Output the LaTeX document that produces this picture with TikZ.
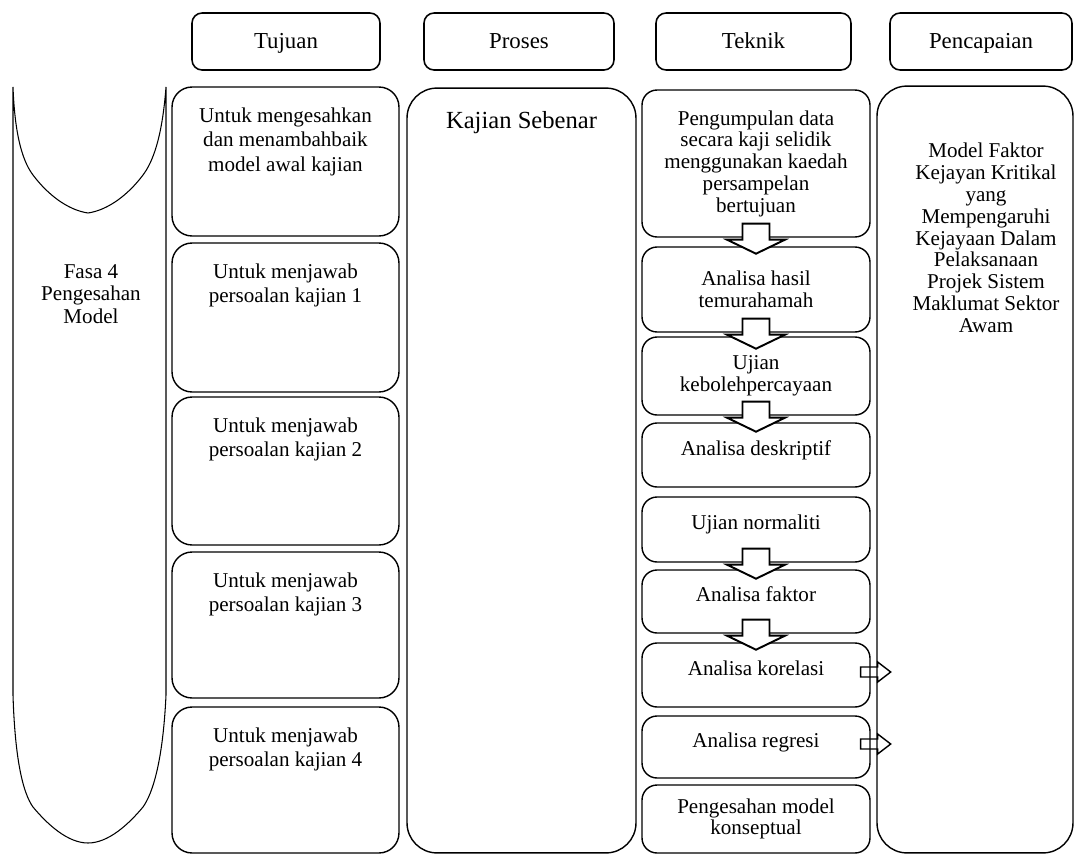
\documentclass[tikz,border=0pt]{standalone}
\usepackage{fontspec}
\setmainfont{Liberation Serif}
\usetikzlibrary{positioning,calc}

\begin{document}
\begin{tikzpicture}[x=0.02cm, y=-0.02cm,
    head/.style={draw, rounded corners=0.2cm, line width=0.9pt, minimum height=1.14cm, text height=0.9em, text depth=0.06em, font=\fontsize{13}{15}\selectfont},
    aim/.style={draw, rounded corners=0.4cm, line width=0.8pt, minimum width=4.54cm},
    tech/.style={draw, rounded corners=0.3cm, line width=0.8pt, minimum width=4.56cm, align=center, font=\fontsize{12}{12.4}\selectfont},
    lift/.style={text depth=0.28cm},
    col/.style={draw, rounded corners=0.6cm, line width=0.8pt},
    txt/.style={anchor=north, align=center, inner sep=0pt, font=\fontsize{12}{13.9}\selectfont},
    darr/.style={draw, fill=white, line width=1.1pt},
    rarr/.style={draw, line width=0.8pt},
  ]
  \useasboundingbox (0,0) rectangle (1076,856);

  % column headers
  \node[head, minimum width=3.76cm] (hTujuan) at (286,41.5) {Tujuan};
  \node[head, minimum width=3.8cm] (hProses) at (519,41.5) {Proses};
  \node[head, minimum width=3.9cm] (hTeknik) at (753.5,41.5) {Teknik};
  \node[head, minimum width=3.64cm] (hCapai) at (981,41.5) {Pencapaian};

  % phase shape
  \draw[line width=0.6pt] (13,87) .. controls (15,140) and (24,163) .. (33,175)
    .. controls (48,195) and (68,210) .. (88,213)
    .. controls (108,210) and (128,195) .. (143,175)
    .. controls (152,163) and (162,140) .. (166,87)
    -- (166,695) .. controls (163,760) and (153,793) .. (143,807)
    .. controls (128,825) and (108,843) .. (88,843)
    .. controls (68,843) and (48,825) .. (33,807)
    .. controls (23,793) and (15,760) .. (13,695) -- cycle;
  \node[anchor=north, align=center, inner sep=0pt, font=\fontsize{12}{12.8}\selectfont] (fasa) at (91,264) {Fasa 4\\Pengesahan\\Model};

  % tujuan
  \node[aim, minimum height=2.98cm] (tj1) at (285.5,161.5) {};
  \node[aim, minimum height=2.98cm] (tj2) at (285.5,317.5) {};
  \node[aim, minimum height=2.96cm] (tj3) at (285.5,471) {};
  \node[aim, minimum height=2.92cm] (tj4) at (285.5,625) {};
  \node[aim, minimum height=2.92cm] (tj5) at (285.5,780) {};
  \node[txt] (tj1t) at ($(tj1.north)+(0,21)$) {Untuk mengesahkan\\dan menambahbaik\\model awal kajian};
  \node[txt] (tj2t) at ($(tj2.north)+(0,21)$) {Untuk menjawab\\persoalan kajian 1};
  \node[txt] (tj3t) at ($(tj3.north)+(0,21)$) {Untuk menjawab\\persoalan kajian 2};
  \node[txt] (tj4t) at ($(tj4.north)+(0,21)$) {Untuk menjawab\\persoalan kajian 3};
  \node[txt] (tj5t) at ($(tj5.north)+(0,21)$) {Untuk menjawab\\persoalan kajian 4};

  % proses
  \node[col, minimum width=4.58cm, minimum height=15.3cm] (proses) at (521.5,470.5) {};
  \node[anchor=north, inner sep=0pt, font=\fontsize{14}{16}\selectfont] (kajian) at ($(proses.north)+(0,24)$) {Kajian Sebenar};

  % teknik
  \node[tech, minimum height=2.94cm] (tk1) at (756,163.5) {Pengumpulan data\\secara kaji selidik\\menggunakan kaedah\\persampelan\\bertujuan};
  \node[tech, minimum height=1.7cm] (tk2) at (756,289.5) {Analisa hasil\\temurahamah};
  \node[tech, minimum height=1.56cm] (tk3) at (756,376) {Ujian\\kebolehpercayaan};
  \node[tech, lift, minimum height=1.28cm] (tk4) at (756,455) {Analisa deskriptif};
  \node[tech, lift, minimum height=1.3cm] (tk5) at (756,529.5) {Ujian normaliti};
  \node[tech, lift, minimum height=1.26cm] (tk6) at (756,601.5) {Analisa faktor};
  \node[tech, lift, minimum height=1.28cm] (tk7) at (756,675) {Analisa korelasi};
  \node[tech, lift, minimum height=1.24cm] (tk8) at (756,747) {Analisa regresi};
  \node[tech, minimum height=1.36cm] (tk9) at (756,819) {Pengesahan model\\konseptual};

  \foreach \b in {tk1,tk2,tk3,tk5,tk6}
    \draw[darr, shift={(\b.south)}] (-13.5,-14) -- (13.5,-14) -- (13.5,2) -- (29,2) -- (0,16) -- (-29,2) -- (-13.5,2) -- cycle;

  % pencapaian
  \node[col, minimum width=3.92cm, minimum height=15.34cm] (capai) at (975,469.5) {};
  \node[anchor=north, align=center, inner sep=0pt, font=\fontsize{12}{12.4}\selectfont] (capait) at (986,143) {Model Faktor\\Kejayan Kritikal\\yang\\Mempengaruhi\\Kejayaan Dalam\\Pelaksanaan\\Projek Sistem\\Maklumat Sektor\\Awam};

  \foreach \b in {tk7,tk8}
    \draw[rarr, shift={($(\b.east)+(0,-3)$)}] (-10,-5) -- (7,-5) -- (7,-10) -- (20,0) -- (7,10) -- (7,5) -- (-10,5) -- cycle;
\end{tikzpicture}
\end{document}
